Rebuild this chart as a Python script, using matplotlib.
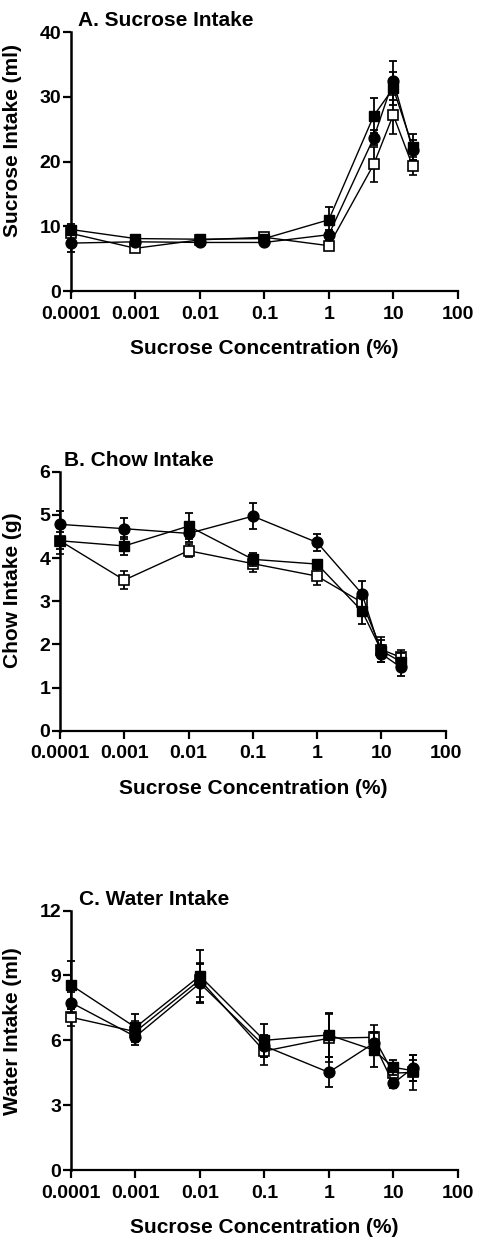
import numpy as np
import matplotlib.pyplot as plt

plt.rcParams['font.family'] = ['Liberation Sans', 'DejaVu Sans']
plt.rcParams['font.weight'] = 'bold'

conc = [0.0001, 0.001, 0.01, 0.1, 1, 5, 10, 20]
xticks = [0.0001, 0.001, 0.01, 0.1, 1, 10, 100]
xticklabels = ['0.0001', '0.001', '0.01', '0.1', '1', '10', '100']

# A. sucrose intake (ml)
suc_circle = [7.4, 7.6, 7.5, 7.5, 8.7, 23.7, 32.5, 21.8]
suc_circle_err = [1.3, 0.5, 0.4, 0.3, 0.8, 1.2, 3.0, 1.5]
suc_fsq = [9.5, 8.1, 8.0, 8.1, 11.0, 27.1, 31.3, 22.3]
suc_fsq_err = [0.8, 0.6, 0.5, 0.4, 2.0, 2.7, 2.5, 2.0]
suc_osq = [8.9, 6.6, 7.9, 8.3, 7.0, 19.6, 27.2, 19.3]
suc_osq_err = [1.0, 0.5, 0.5, 0.5, 0.5, 2.7, 3.0, 1.4]

# B. chow intake (g)
chow_circle = [4.78, 4.68, 4.57, 4.97, 4.36, 3.17, 1.78, 1.47]
chow_circle_err = [0.3, 0.25, 0.2, 0.3, 0.2, 0.3, 0.2, 0.2]
chow_fsq = [4.4, 4.28, 4.74, 3.97, 3.86, 2.77, 1.85, 1.6]
chow_fsq_err = [0.2, 0.2, 0.3, 0.15, 0.1, 0.3, 0.25, 0.2]
chow_osq = [4.4, 3.49, 4.17, 3.87, 3.58, 2.97, 1.88, 1.7]
chow_osq_err = [0.3, 0.2, 0.15, 0.2, 0.2, 0.2, 0.3, 0.18]

# C. water intake (ml)
wat_circle = [7.75, 6.17, 8.64, 5.74, 4.52, 5.87, 4.01, 4.71]
wat_circle_err = [0.5, 0.4, 0.9, 0.5, 0.7, 0.5, 0.2, 0.6]
wat_fsq = [8.56, 6.6, 8.98, 6.0, 6.25, 5.55, 4.75, 4.6]
wat_fsq_err = [1.1, 0.6, 1.2, 0.75, 1.0, 0.8, 0.35, 0.5]
wat_osq = [7.07, 6.4, 8.8, 5.5, 6.1, 6.14, 4.48, 4.52]
wat_osq_err = [0.4, 0.5, 0.8, 0.65, 1.1, 0.55, 0.4, 0.8]

panels = [
    ('A. Sucrose Intake', 'Sucrose Intake (ml)', [0, 10, 20, 30, 40],
     (suc_circle, suc_circle_err), (suc_fsq, suc_fsq_err), (suc_osq, suc_osq_err)),
    ('B. Chow Intake', 'Chow Intake (g)', [0, 1, 2, 3, 4, 5, 6],
     (chow_circle, chow_circle_err), (chow_fsq, chow_fsq_err), (chow_osq, chow_osq_err)),
    ('C. Water Intake', 'Water Intake (ml)', [0, 3, 6, 9, 12],
     (wat_circle, wat_circle_err), (wat_fsq, wat_fsq_err), (wat_osq, wat_osq_err)),
]

# axes boxes in figure fractions, measured off the page
boxes = [[0.1485, 0.7655, 0.809, 0.2087],
         [0.1255, 0.4112, 0.807, 0.2087],
         [0.1485, 0.0572, 0.809, 0.2090]]
ylab_pos = [(-0.127, 0.583), (-0.099, 0.541), (-0.1275, 0.537)]
title_pos = [(0.017, 1.046), (0.011, 1.045), (0.021, 1.042)]

fig = plt.figure(figsize=(4.78, 12.41), dpi=100)

for i, (title, ylabel, yticks, circ, fsq, osq) in enumerate(panels):
    ax = fig.add_axes(boxes[i])
    ax.set_xscale('log')

    ax.errorbar(conc, osq[0], yerr=osq[1], color='black', lw=1, marker='s', ms=7.5,
                mfc='white', mec='black', mew=1.2, ecolor='black', elinewidth=1.3,
                capsize=3, capthick=1.3, clip_on=False, zorder=3)
    ax.errorbar(conc, circ[0], yerr=circ[1], color='black', lw=1, marker='o', ms=7.8,
                mfc='black', mec='black', ecolor='black', elinewidth=1.3,
                capsize=3, capthick=1.3, clip_on=False, zorder=4)
    ax.errorbar(conc, fsq[0], yerr=fsq[1], color='black', lw=1, marker='s', ms=7.5,
                mfc='black', mec='black', ecolor='black', elinewidth=1.3,
                capsize=3, capthick=1.3, clip_on=False, zorder=5)

    ax.set_xlim(0.0001, 100)
    ax.set_ylim(yticks[0], yticks[-1])
    ax.set_xticks(xticks)
    ax.set_xticklabels(xticklabels)
    ax.xaxis.set_minor_locator(plt.NullLocator())
    ax.set_yticks(yticks)

    for s in ['top', 'right']:
        ax.spines[s].set_visible(False)
    ax.spines['left'].set_linewidth(1.8)
    ax.spines['bottom'].set_linewidth(1.6)
    ax.tick_params(axis='both', direction='out', length=5.5, width=1.6, labelsize=14)
    ax.tick_params(axis='x', pad=5)
    ax.tick_params(axis='y', pad=1.5)
    for lab in ax.get_xticklabels() + ax.get_yticklabels():
        lab.set_fontweight('bold')

    ax.set_xlabel('Sucrose Concentration (%)', fontsize=15, fontweight='bold', labelpad=12)
    ax.set_ylabel(ylabel, fontsize=15, fontweight='bold')
    ax.yaxis.set_label_coords(*ylab_pos[i])
    ax.text(title_pos[i][0], title_pos[i][1], title, transform=ax.transAxes,
            ha='left', va='center', fontsize=15, fontweight='bold')

plt.savefig('out.png', dpi=100)
